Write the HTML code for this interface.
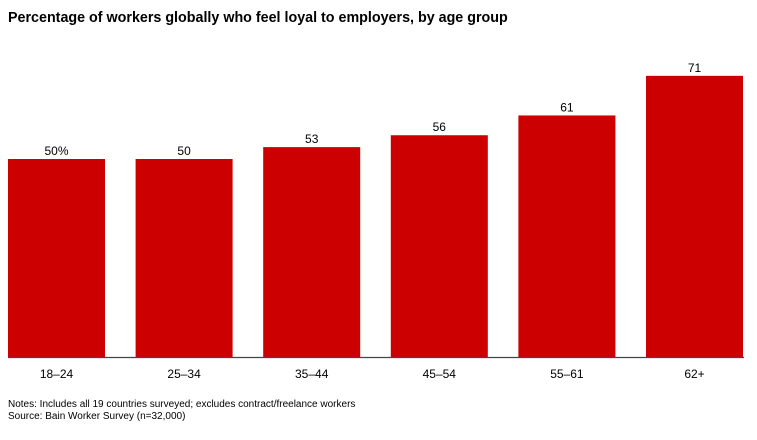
<!DOCTYPE html>
<html><head><meta charset="utf-8"><style>
body{margin:0;background:#fff;font-family:"Liberation Sans",Arial,sans-serif;}
</style></head><body>
<svg width="757" height="435" xmlns="http://www.w3.org/2000/svg">
<text x="8" y="22" font-size="14.3" font-weight="bold" fill="#000">Percentage of workers globally who feel loyal to employers, by age group</text>
<g id="bars"></g>
<line x1="8" y1="357.5" x2="744" y2="357.5" stroke="#444" stroke-width="1.2"/>
<text x="8" y="407" font-size="10" fill="#000">Notes: Includes all 19 countries surveyed; excludes contract/freelance workers</text>
<text x="8" y="419" font-size="10" fill="#000">Source: Bain Worker Survey (n=32,000)</text>
</svg>
<script>
const categories=["18–24","25–34","35–44","45–54","55–61","62+"];
const values=[50,50,53,56,61,71];
const valueLabels=["50%","50","53","56","61","71"];
const ns="http://www.w3.org/2000/svg";
const g=document.getElementById("bars");
const y0=357, scale=3.96;
function yScale(v){return y0-v*scale;}
function xScale(i){return 8+i*127.6;}
const bw=97;
categories.forEach((c,i)=>{
  const r=document.createElementNS(ns,"rect");
  r.setAttribute("x",xScale(i));r.setAttribute("y",yScale(values[i]));
  r.setAttribute("width",bw);r.setAttribute("height",y0-yScale(values[i]));
  r.setAttribute("fill","#cc0000");
  
  
  g.appendChild(r);
  const t=document.createElementNS(ns,"text");
  t.setAttribute("x",xScale(i)+bw/2);t.setAttribute("y",yScale(values[i])-4);
  t.setAttribute("text-anchor","middle");t.setAttribute("font-size","12");
  t.textContent=valueLabels[i];
  
  
  g.appendChild(t);
  const l=document.createElementNS(ns,"text");
  l.setAttribute("x",xScale(i)+bw/2);l.setAttribute("y",378);
  l.setAttribute("text-anchor","middle");l.setAttribute("font-size","12");
  l.textContent=c;
  
  
  g.appendChild(l);
});
</script>
</body></html>
